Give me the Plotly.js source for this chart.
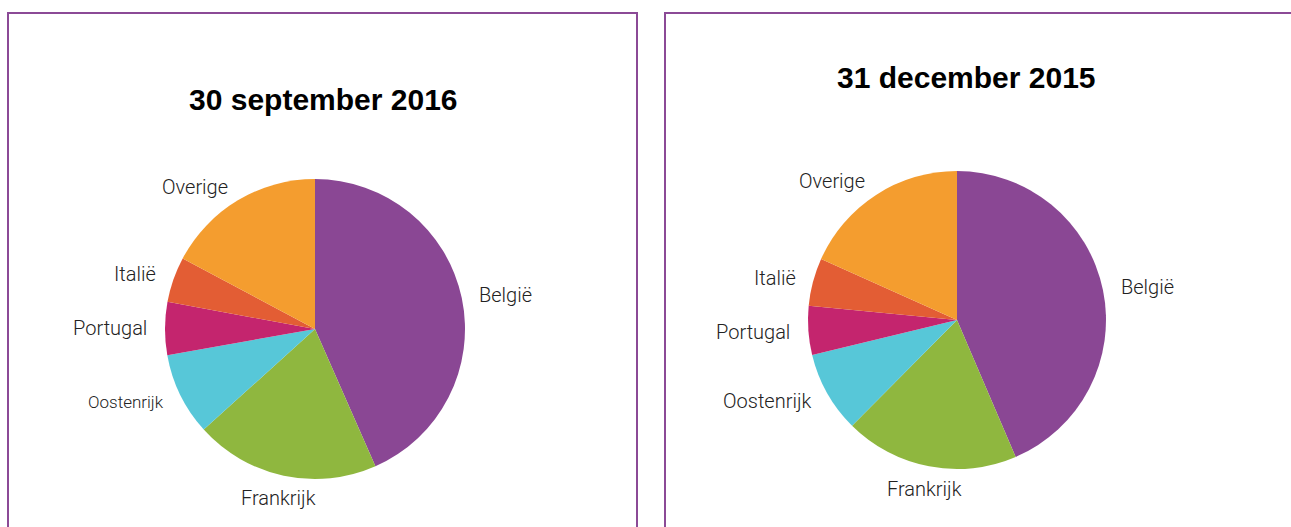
<!DOCTYPE html>
<html>
<head>
<meta charset="utf-8">
<script src="https://cdn.plot.ly/plotly-3.0.1.min.js"></script>
<style>html,body{margin:0;padding:0;background:#fff;}#chart{width:1291px;height:527px;}</style>
</head>
<body>
<div id="chart"></div>
<script>
// Data (percent shares)
const countries = ["België", "Frankrijk", "Oostenrijk", "Portugal", "Italië", "Overige"];
const values2016 = [43.4, 19.9, 8.9, 5.7, 4.9, 17.2];
const values2015 = [43.6, 18.9, 8.8, 5.3, 5.2, 18.3];
const titles = ["30 september 2016", "31 december 2015"];

const colors = ["#8A4794", "#8FB73F", "#57C7D8", "#C4256E", "#E35D34", "#F49D2F"];
const purple = "#8B4A96";
const labelFont = "Roboto, Liberation Sans, Arial, sans-serif";

const W = 1291, H = 527;
const px = v => v / W, py = v => 1 - v / H;

// pie geometry (pixels): center and radius of each panel's pie
const pies = [
  {values: values2016, cx: 315, cy: 329, r: 150, sizes: [20, 20, 17, 20, 20, 20]},
  {values: values2015, cx: 957, cy: 320, r: 149, sizes: [20, 20, 20, 20, 20, 20]}
];

const traces = [];
const labelAnns = [];
pies.forEach(p => {
  traces.push({
    type: "pie", labels: countries, values: p.values, sort: false,
    direction: "clockwise", rotation: 0,
    domain: {x: [px(p.cx - p.r), px(p.cx + p.r)], y: [py(p.cy + p.r), py(p.cy - p.r)]},
    marker: {colors: colors, line: {width: 0}},
    textinfo: "none", hoverinfo: "label+value", showlegend: false
  });
  // outside labels at each slice's mid-angle
  const total = p.values.reduce((a, b) => a + b, 0);
  let cum = 0;
  p.values.forEach((v, i) => {
    const mid = (cum + v / 2) / total * 2 * Math.PI;
    cum += v;
    const s = Math.sin(mid), c = Math.cos(mid);
    let xa = "center", R = p.r + 23;
    if (s > 0.35) { xa = "left"; R = p.r + 16; }
    else if (s < -0.35) { xa = "right"; R = p.r + 16; }
    labelAnns.push({
      text: countries[i], xref: "paper", yref: "paper",
      x: px(p.cx + R * s), y: py(p.cy - R * c),
      xanchor: xa, yanchor: "middle", showarrow: false,
      font: {family: labelFont, size: p.sizes[i], color: "#222", weight: 300}
    });
  });
});

const titleFont = {family: "Liberation Sans Narrow, Arial Narrow, Liberation Sans, Arial, sans-serif", size: 30, color: "#000", weight: "bold"};

const layout = {
  width: W, height: H,
  margin: {l: 0, r: 0, t: 0, b: 0},
  paper_bgcolor: "#fff",
  showlegend: false,
  shapes: [
    {type: "rect", xref: "paper", yref: "paper", x0: px(8), x1: px(637), y0: -0.05, y1: py(13),
     line: {color: purple, width: 2}},
    {type: "rect", xref: "paper", yref: "paper", x0: px(665), x1: 1.05, y0: -0.05, y1: py(13),
     line: {color: purple, width: 2}}
  ],
  annotations: [
    {text: titles[0], xref: "paper", yref: "paper", x: px(323), y: py(100), xanchor: "center", yanchor: "middle",
     showarrow: false, font: titleFont},
    {text: titles[1], xref: "paper", yref: "paper", x: px(966), y: py(77), xanchor: "center", yanchor: "middle",
     showarrow: false, font: titleFont}
  ].concat(labelAnns)
};

Plotly.newPlot("chart", traces, layout, {displayModeBar: false, staticPlot: true});
</script>
</body>
</html>
